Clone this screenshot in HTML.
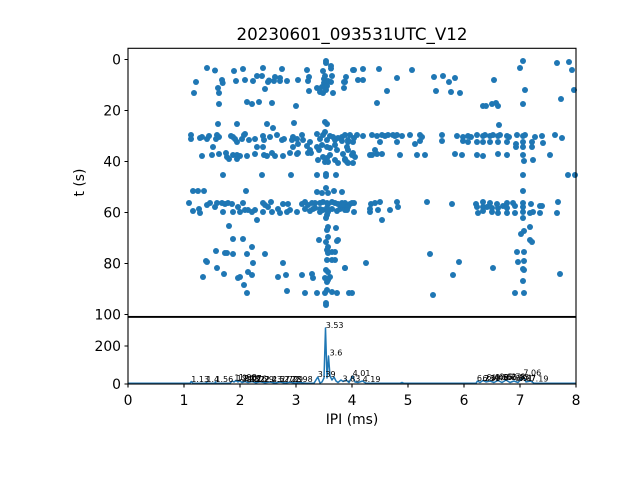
<!DOCTYPE html>
<html><head><meta charset="utf-8"><style>
html,body{margin:0;padding:0;background:#fff;}
svg{display:block;}
text{font-family:"DejaVu Sans","Liberation Sans",sans-serif;fill:#000;}
.tk{font-size:13.9px;}
.lb{font-size:8px;}
</style></head><body>
<svg width="640" height="480" viewBox="0 0 640 480" xmlns="http://www.w3.org/2000/svg">
<rect width="640" height="480" fill="#fff"/>
<text x="352" y="40" font-size="16.7" text-anchor="middle">20230601_093531UTC_V12</text>
<g fill="#1f77b4">
<circle cx="207" cy="68" r="3"/><circle cx="215" cy="70.5" r="3"/><circle cx="196" cy="82" r="3"/><circle cx="194" cy="93" r="3"/><circle cx="218" cy="88" r="3"/><circle cx="219" cy="93" r="3"/><circle cx="222.7" cy="83" r="3"/><circle cx="222" cy="80" r="3"/><circle cx="219" cy="104" r="3"/><circle cx="234" cy="71" r="3"/><circle cx="243" cy="69" r="3"/><circle cx="236" cy="81" r="3"/><circle cx="245" cy="80" r="3"/><circle cx="253" cy="81" r="3"/><circle cx="257" cy="76" r="3"/><circle cx="263" cy="68" r="3"/><circle cx="262" cy="76" r="3"/><circle cx="265" cy="89" r="3"/><circle cx="268" cy="82" r="3"/><circle cx="269" cy="80.5" r="3"/><circle cx="274" cy="81" r="3"/><circle cx="275" cy="77" r="3"/><circle cx="280" cy="78" r="3"/><circle cx="280" cy="81" r="3"/><circle cx="282" cy="69" r="3"/><circle cx="287" cy="81" r="3"/><circle cx="298" cy="80" r="3"/><circle cx="296" cy="106" r="3"/><circle cx="307" cy="70" r="3"/><circle cx="309" cy="77" r="3"/><circle cx="308" cy="81" r="3"/><circle cx="309" cy="91" r="3"/><circle cx="247" cy="102" r="3"/><circle cx="252" cy="104" r="3"/><circle cx="259" cy="102" r="3"/><circle cx="272" cy="103" r="3"/>
<circle cx="326" cy="61" r="3"/><circle cx="326" cy="63" r="3"/><circle cx="331" cy="68.5" r="3"/><circle cx="331" cy="66" r="3"/><circle cx="323" cy="71" r="3"/><circle cx="354" cy="70" r="3"/><circle cx="363" cy="69" r="3"/><circle cx="332" cy="76" r="3"/><circle cx="324" cy="79" r="3"/><circle cx="328" cy="81" r="3"/><circle cx="331" cy="82" r="3"/><circle cx="324" cy="83" r="3"/><circle cx="325" cy="76" r="3"/><circle cx="327" cy="86" r="3"/><circle cx="346" cy="77" r="3"/><circle cx="345" cy="82" r="3"/><circle cx="358" cy="80" r="3"/><circle cx="363" cy="80" r="3"/><circle cx="317" cy="88" r="3"/><circle cx="320" cy="92" r="3"/><circle cx="323" cy="93" r="3"/><circle cx="326" cy="90" r="3"/><circle cx="322" cy="87" r="3"/><circle cx="333" cy="93" r="3"/><circle cx="344" cy="88" r="3"/><circle cx="353" cy="70" r="3"/><circle cx="344" cy="82" r="3"/>
<circle cx="379" cy="69" r="3"/><circle cx="387" cy="91" r="3"/><circle cx="377" cy="103" r="3"/><circle cx="397" cy="78" r="3"/><circle cx="412" cy="70" r="3"/><circle cx="434" cy="77" r="3"/><circle cx="443" cy="76" r="3"/><circle cx="449" cy="82" r="3"/><circle cx="455" cy="78" r="3"/><circle cx="436" cy="91" r="3"/><circle cx="451" cy="92" r="3"/><circle cx="460" cy="93" r="3"/><circle cx="494" cy="80" r="3"/><circle cx="483" cy="106" r="3"/><circle cx="486" cy="106" r="3"/><circle cx="492" cy="104" r="3"/><circle cx="496" cy="103" r="3"/><circle cx="498" cy="106" r="3"/><circle cx="523" cy="61" r="3"/><circle cx="520" cy="68" r="3"/><circle cx="525" cy="90" r="3"/><circle cx="523" cy="104" r="3"/><circle cx="557" cy="63" r="3"/><circle cx="569" cy="62" r="3"/><circle cx="572" cy="70" r="3"/><circle cx="561" cy="99" r="3"/><circle cx="574" cy="90" r="3"/><circle cx="499" cy="125" r="3"/>
<circle cx="218" cy="124" r="3"/><circle cx="237" cy="124" r="3"/><circle cx="245" cy="134" r="3"/><circle cx="267" cy="124" r="3"/><circle cx="273" cy="128" r="3"/><circle cx="294" cy="123" r="3"/><circle cx="325" cy="122" r="3"/><circle cx="327" cy="124" r="3"/>
<circle cx="191" cy="135" r="3"/><circle cx="191" cy="139" r="3"/><circle cx="200" cy="138" r="3"/><circle cx="202" cy="137" r="3"/><circle cx="207" cy="139" r="3"/><circle cx="209" cy="136" r="3"/><circle cx="217" cy="135" r="3"/><circle cx="216" cy="139" r="3"/><circle cx="219" cy="137" r="3"/><circle cx="231" cy="136" r="3"/><circle cx="233" cy="137" r="3"/><circle cx="235" cy="139" r="3"/><circle cx="237" cy="142" r="3"/><circle cx="242" cy="139" r="3"/><circle cx="244" cy="135" r="3"/><circle cx="249" cy="140" r="3"/><circle cx="255" cy="139" r="3"/><circle cx="263" cy="136" r="3"/><circle cx="264" cy="140" r="3"/><circle cx="270" cy="137" r="3"/><circle cx="277" cy="135" r="3"/><circle cx="282" cy="140" r="3"/><circle cx="284" cy="139" r="3"/><circle cx="292" cy="140" r="3"/><circle cx="293" cy="137" r="3"/><circle cx="297" cy="139" r="3"/><circle cx="302" cy="135" r="3"/><circle cx="303" cy="140" r="3"/><circle cx="310" cy="142" r="3"/>
<circle cx="317" cy="134" r="3"/><circle cx="320" cy="139" r="3"/><circle cx="323" cy="135" r="3"/><circle cx="325" cy="132" r="3"/><circle cx="327" cy="140" r="3"/><circle cx="330" cy="136" r="3"/><circle cx="333" cy="137" r="3"/><circle cx="335" cy="140" r="3"/><circle cx="338" cy="138" r="3"/><circle cx="342" cy="137" r="3"/><circle cx="345" cy="135" r="3"/><circle cx="348" cy="140" r="3"/><circle cx="350" cy="135" r="3"/><circle cx="354" cy="138" r="3"/><circle cx="357" cy="135" r="3"/><circle cx="363" cy="136" r="3"/><circle cx="372" cy="135" r="3"/>
<circle cx="377" cy="136" r="3"/><circle cx="382" cy="135" r="3"/><circle cx="385" cy="136" r="3"/><circle cx="388" cy="135" r="3"/><circle cx="393" cy="135" r="3"/><circle cx="395" cy="136" r="3"/><circle cx="397" cy="135" r="3"/><circle cx="402" cy="136" r="3"/><circle cx="410" cy="135" r="3"/><circle cx="420" cy="135" r="3"/><circle cx="422" cy="137" r="3"/><circle cx="442" cy="135" r="3"/><circle cx="457" cy="136" r="3"/><circle cx="463" cy="137" r="3"/><circle cx="468" cy="136" r="3"/><circle cx="471" cy="137" r="3"/><circle cx="477" cy="135" r="3"/><circle cx="483" cy="136" r="3"/><circle cx="485" cy="135" r="3"/><circle cx="490" cy="136" r="3"/><circle cx="493" cy="135" r="3"/><circle cx="498" cy="136" r="3"/><circle cx="500" cy="135" r="3"/><circle cx="507" cy="136" r="3"/><circle cx="509" cy="137" r="3"/><circle cx="517" cy="135" r="3"/><circle cx="523" cy="136" r="3"/><circle cx="525" cy="135" r="3"/><circle cx="535" cy="137" r="3"/><circle cx="542" cy="136" r="3"/><circle cx="555" cy="135" r="3"/><circle cx="562" cy="138" r="3"/>
<circle cx="342" cy="141" r="3"/><circle cx="348" cy="142" r="3"/><circle cx="353" cy="142" r="3"/><circle cx="380" cy="142" r="3"/><circle cx="397" cy="142" r="3"/><circle cx="415" cy="144" r="3"/><circle cx="420" cy="141" r="3"/><circle cx="442" cy="141" r="3"/><circle cx="463" cy="141" r="3"/><circle cx="468" cy="142" r="3"/><circle cx="477" cy="142" r="3"/><circle cx="483" cy="142" r="3"/><circle cx="490" cy="142" r="3"/><circle cx="498" cy="142" r="3"/><circle cx="507" cy="142" r="3"/><circle cx="516" cy="144" r="3"/><circle cx="523" cy="142" r="3"/><circle cx="532" cy="142" r="3"/><circle cx="543" cy="143" r="3"/><circle cx="347" cy="147" r="3"/><circle cx="516" cy="147" r="3"/><circle cx="523" cy="147" r="3"/><circle cx="532" cy="147" r="3"/>
<circle cx="213" cy="147" r="3"/><circle cx="257" cy="147" r="3"/><circle cx="263" cy="147" r="3"/><circle cx="293" cy="147" r="3"/><circle cx="307" cy="146" r="3"/>
<circle cx="298" cy="144" r="3"/><circle cx="310" cy="150" r="3"/><circle cx="317" cy="147" r="3"/><circle cx="319" cy="150" r="3"/><circle cx="322" cy="145" r="3"/><circle cx="327" cy="147" r="3"/><circle cx="330" cy="148" r="3"/><circle cx="335" cy="145" r="3"/><circle cx="337" cy="150" r="3"/><circle cx="348" cy="150" r="3"/><circle cx="353" cy="153" r="3"/><circle cx="355" cy="157" r="3"/><circle cx="298" cy="153" r="3"/><circle cx="308" cy="153" r="3"/><circle cx="323" cy="157" r="3"/><circle cx="327" cy="158" r="3"/><circle cx="330" cy="155" r="3"/><circle cx="335" cy="160" r="3"/><circle cx="338" cy="163" r="3"/><circle cx="345" cy="159" r="3"/><circle cx="348" cy="163" r="3"/><circle cx="370" cy="155" r="3"/><circle cx="375" cy="150" r="3"/><circle cx="318" cy="160" r="3"/><circle cx="325" cy="162" r="3"/><circle cx="328" cy="162" r="3"/>
<circle cx="202" cy="156" r="3"/><circle cx="212" cy="155" r="3"/><circle cx="219" cy="154" r="3"/><circle cx="226" cy="153" r="3"/><circle cx="227" cy="157" r="3"/><circle cx="233" cy="155" r="3"/><circle cx="237" cy="155" r="3"/><circle cx="240" cy="156" r="3"/><circle cx="247" cy="156" r="3"/><circle cx="255" cy="154" r="3"/><circle cx="264" cy="155" r="3"/><circle cx="267" cy="156" r="3"/><circle cx="272" cy="153" r="3"/><circle cx="275" cy="156" r="3"/><circle cx="283" cy="156" r="3"/><circle cx="290" cy="153" r="3"/><circle cx="297" cy="154" r="3"/><circle cx="311" cy="153" r="3"/><circle cx="229" cy="159" r="3"/><circle cx="237" cy="159" r="3"/>
<circle cx="343" cy="154" r="3"/><circle cx="352" cy="155" r="3"/><circle cx="372" cy="155" r="3"/><circle cx="377" cy="154" r="3"/><circle cx="382" cy="154" r="3"/><circle cx="400" cy="155" r="3"/><circle cx="417" cy="155" r="3"/><circle cx="425" cy="155" r="3"/><circle cx="455" cy="154" r="3"/><circle cx="462" cy="155" r="3"/><circle cx="477" cy="155" r="3"/><circle cx="483" cy="156" r="3"/><circle cx="498" cy="154" r="3"/><circle cx="507" cy="155" r="3"/><circle cx="523" cy="155" r="3"/><circle cx="550" cy="155" r="3"/><circle cx="345" cy="160" r="3"/><circle cx="347" cy="162" r="3"/><circle cx="353" cy="163" r="3"/><circle cx="524" cy="161" r="3"/><circle cx="533" cy="160" r="3"/>
<circle cx="223" cy="175" r="3"/><circle cx="262" cy="175" r="3"/><circle cx="291" cy="175" r="3"/><circle cx="317" cy="175" r="3"/><circle cx="326" cy="174" r="3"/><circle cx="326" cy="176" r="3"/><circle cx="336" cy="175" r="3"/><circle cx="523" cy="175" r="3"/><circle cx="568" cy="175" r="3"/><circle cx="575" cy="175" r="3"/>
<circle cx="326" cy="188" r="3"/><circle cx="317" cy="192" r="3"/><circle cx="322" cy="193" r="3"/><circle cx="328" cy="193" r="3"/><circle cx="334" cy="191" r="3"/><circle cx="342" cy="192" r="3"/><circle cx="193" cy="191" r="3"/><circle cx="198" cy="191" r="3"/><circle cx="204" cy="191" r="3"/><circle cx="246" cy="191" r="3"/><circle cx="523" cy="191" r="3"/>
<circle cx="189" cy="203" r="3"/><circle cx="193" cy="211" r="3"/><circle cx="199" cy="209" r="3"/><circle cx="200" cy="213" r="3"/><circle cx="207" cy="205" r="3"/><circle cx="210" cy="203" r="3"/><circle cx="215" cy="207" r="3"/><circle cx="217" cy="203" r="3"/><circle cx="222" cy="203" r="3"/><circle cx="223" cy="212" r="3"/><circle cx="225" cy="204" r="3"/><circle cx="228" cy="203" r="3"/><circle cx="232" cy="204" r="3"/><circle cx="233" cy="212" r="3"/><circle cx="238" cy="207" r="3"/><circle cx="240" cy="212" r="3"/><circle cx="243" cy="203" r="3"/><circle cx="245" cy="210" r="3"/><circle cx="248" cy="210" r="3"/><circle cx="252" cy="212" r="3"/><circle cx="255" cy="210" r="3"/><circle cx="263" cy="203" r="3"/><circle cx="265" cy="205" r="3"/><circle cx="263" cy="212" r="3"/><circle cx="268" cy="207" r="3"/><circle cx="271" cy="202" r="3"/><circle cx="272" cy="212" r="3"/><circle cx="278" cy="209" r="3"/><circle cx="280" cy="213" r="3"/><circle cx="283" cy="204" r="3"/><circle cx="288" cy="204" r="3"/><circle cx="287" cy="212" r="3"/><circle cx="290" cy="210" r="3"/><circle cx="297" cy="212" r="3"/><circle cx="302" cy="204" r="3"/><circle cx="305" cy="202" r="3"/><circle cx="308" cy="205" r="3"/><circle cx="310" cy="211" r="3"/><circle cx="313" cy="209" r="3"/><circle cx="320" cy="212" r="3"/>
<circle cx="312" cy="203" r="3"/><circle cx="315" cy="203" r="3"/><circle cx="320" cy="203" r="3"/><circle cx="323" cy="202" r="3"/><circle cx="327" cy="203" r="3"/><circle cx="328" cy="204" r="3"/><circle cx="332" cy="202" r="3"/><circle cx="335" cy="203" r="3"/><circle cx="338" cy="204" r="3"/><circle cx="342" cy="203" r="3"/><circle cx="345" cy="203" r="3"/><circle cx="347" cy="206" r="3"/><circle cx="350" cy="204" r="3"/><circle cx="354" cy="203" r="3"/><circle cx="371" cy="204" r="3"/><circle cx="370" cy="209" r="3"/><circle cx="305" cy="209" r="3"/><circle cx="315" cy="208" r="3"/><circle cx="320" cy="209" r="3"/><circle cx="323" cy="210" r="3"/><circle cx="327" cy="208" r="3"/><circle cx="328" cy="212" r="3"/><circle cx="332" cy="209" r="3"/><circle cx="337" cy="211" r="3"/><circle cx="340" cy="209" r="3"/><circle cx="343" cy="207" r="3"/><circle cx="345" cy="210" r="3"/><circle cx="354" cy="212" r="3"/><circle cx="327" cy="215" r="3"/><circle cx="326" cy="218" r="3"/>
<circle cx="342" cy="205" r="3"/><circle cx="348" cy="207" r="3"/><circle cx="352" cy="203" r="3"/><circle cx="347" cy="210" r="3"/><circle cx="375" cy="203" r="3"/><circle cx="380" cy="202" r="3"/><circle cx="370" cy="212" r="3"/><circle cx="378" cy="210" r="3"/><circle cx="382" cy="220" r="3"/><circle cx="390" cy="210" r="3"/><circle cx="397" cy="202" r="3"/><circle cx="398" cy="207" r="3"/><circle cx="427" cy="202" r="3"/><circle cx="452" cy="204" r="3"/><circle cx="476" cy="204" r="3"/><circle cx="477" cy="207" r="3"/><circle cx="478" cy="213" r="3"/><circle cx="483" cy="202" r="3"/><circle cx="483" cy="207" r="3"/><circle cx="483" cy="211" r="3"/><circle cx="487" cy="207" r="3"/><circle cx="490" cy="203" r="3"/><circle cx="492" cy="208" r="3"/><circle cx="492" cy="212" r="3"/><circle cx="497" cy="204" r="3"/><circle cx="498" cy="208" r="3"/><circle cx="498" cy="213" r="3"/><circle cx="503" cy="206" r="3"/><circle cx="507" cy="203" r="3"/><circle cx="507" cy="208" r="3"/><circle cx="507" cy="213" r="3"/><circle cx="513" cy="203" r="3"/><circle cx="515" cy="206" r="3"/><circle cx="515" cy="213" r="3"/><circle cx="523" cy="203" r="3"/><circle cx="523" cy="207" r="3"/><circle cx="523" cy="212" r="3"/><circle cx="523" cy="218" r="3"/><circle cx="531" cy="204" r="3"/><circle cx="530" cy="213" r="3"/><circle cx="533" cy="212" r="3"/><circle cx="540" cy="206" r="3"/><circle cx="542" cy="206" r="3"/><circle cx="540" cy="213" r="3"/><circle cx="558" cy="202" r="3"/><circle cx="557" cy="213" r="3"/>
<circle cx="328" cy="227" r="3"/><circle cx="327" cy="230" r="3"/><circle cx="336" cy="228" r="3"/><circle cx="328" cy="237" r="3"/><circle cx="326" cy="242" r="3"/><circle cx="319" cy="240" r="3"/><circle cx="338" cy="240" r="3"/><circle cx="328" cy="247" r="3"/><circle cx="327" cy="250" r="3"/><circle cx="332" cy="252" r="3"/><circle cx="328" cy="253" r="3"/><circle cx="335" cy="252" r="3"/><circle cx="327" cy="260" r="3"/><circle cx="332" cy="260" r="3"/><circle cx="335" cy="260" r="3"/><circle cx="366" cy="263" r="3"/><circle cx="345" cy="268" r="3"/><circle cx="326" cy="270" r="3"/><circle cx="328" cy="272" r="3"/><circle cx="302" cy="275" r="3"/><circle cx="312" cy="274" r="3"/><circle cx="313" cy="278" r="3"/><circle cx="325" cy="278" r="3"/><circle cx="330" cy="277" r="3"/><circle cx="327" cy="282" r="3"/><circle cx="328" cy="280" r="3"/><circle cx="305" cy="293" r="3"/><circle cx="317" cy="293" r="3"/><circle cx="327" cy="290" r="3"/><circle cx="325" cy="293" r="3"/><circle cx="332" cy="292" r="3"/><circle cx="337" cy="293" r="3"/><circle cx="352" cy="293" r="3"/><circle cx="326" cy="305" r="3"/><circle cx="326" cy="303" r="3"/>
<circle cx="229" cy="226" r="3"/><circle cx="257" cy="220" r="3"/><circle cx="233" cy="239" r="3"/><circle cx="243" cy="239" r="3"/><circle cx="252" cy="247" r="3"/><circle cx="216" cy="251" r="3"/><circle cx="225" cy="253" r="3"/><circle cx="227" cy="253" r="3"/><circle cx="233" cy="254" r="3"/><circle cx="247" cy="254" r="3"/><circle cx="253" cy="263" r="3"/><circle cx="265" cy="254" r="3"/><circle cx="206" cy="261" r="3"/><circle cx="207" cy="262" r="3"/><circle cx="217" cy="268" r="3"/><circle cx="203" cy="277" r="3"/><circle cx="224" cy="274" r="3"/><circle cx="238" cy="278" r="3"/><circle cx="240" cy="277" r="3"/><circle cx="248" cy="272" r="3"/><circle cx="252" cy="275" r="3"/><circle cx="244" cy="285" r="3"/><circle cx="247" cy="293" r="3"/><circle cx="283" cy="263" r="3"/><circle cx="278" cy="277" r="3"/><circle cx="286" cy="275" r="3"/><circle cx="287" cy="291" r="3"/><circle cx="337" cy="241" r="3"/><circle cx="349" cy="293" r="3"/>
<circle cx="530" cy="227" r="3"/><circle cx="524" cy="231" r="3"/><circle cx="521" cy="234" r="3"/><circle cx="530" cy="240" r="3"/><circle cx="532" cy="242" r="3"/><circle cx="517" cy="252" r="3"/><circle cx="524" cy="252" r="3"/><circle cx="518" cy="262" r="3"/><circle cx="524" cy="261" r="3"/><circle cx="523" cy="269" r="3"/><circle cx="524" cy="270" r="3"/><circle cx="523" cy="281" r="3"/><circle cx="515" cy="293" r="3"/><circle cx="524" cy="293" r="3"/><circle cx="430" cy="254" r="3"/><circle cx="459" cy="262" r="3"/><circle cx="453" cy="275" r="3"/><circle cx="493" cy="268" r="3"/><circle cx="560" cy="274" r="3"/><circle cx="433" cy="295" r="3"/><circle cx="345" cy="268" r="3"/>
</g>
<path d="M128,383.3 L190,383.3 L191.3,381.5 L193,383.3 L206,383.3 L206.4,382 L207,383.3 L215,383.3 L215.4,381.8 L216,383.3 L230,383.3 L232,381 L234,382 L236,380.5 L238,382 L240,381 L242,382.5 L245,381.5 L248,382.5 L252,381.5 L256,382.8 L260,381.8 L265,382.8 L270,382 L275,383 L280,382 L285,383 L290,382.2 L295,383 L300,382.5 L306,383.2 L314,383.2 L317.8,377 L320,383 L322,382 L324,378 L325.5,328 L327,378 L328.5,356 L330,376 L332,380 L334,377 L336,381 L338,382.5 L341,380 L343,381.5 L346,380 L349,382.5 L352.6,376 L355,382 L358,382.5 L362.6,381 L366,383.3 L400,383.3 L402,382.5 L404,383.3 L476,383.3 L477.5,381 L480,382.5 L483,380.5 L486,382 L490,381 L494,382.5 L498,380.5 L502,382.5 L506,380 L510,382.5 L514,381 L518,382.5 L521,379.5 L523.4,377 L526,382 L530.6,381 L534,383.3 L576,383.3" fill="none" stroke="#1f77b4" stroke-width="1.5" stroke-linejoin="round"/>
<g class="lb">
<text x="191.3" y="382">1.13</text><text x="206.4" y="382">1.4</text><text x="215.4" y="382">1.56</text>
<text x="234.4" y="380.5">1.9</text><text x="236.6" y="381">1.94</text><text x="238.9" y="380">1.98</text><text x="241.7" y="381.5">2.03</text><text x="243.9" y="381">2.07</text><text x="246.7" y="382">2.12</text><text x="249" y="381.5">2.16</text><text x="252.3" y="382">2.22</text><text x="256.2" y="382">2.29</text><text x="264" y="382">2.43</text><text x="272" y="382">2.57</text><text x="280.3" y="382">2.72</text><text x="283.7" y="382">2.78</text><text x="290.4" y="382">2.9</text><text x="294.9" y="382">2.98</text>
<text x="317.8" y="377">3.39</text><text x="325.7" y="328">3.53</text><text x="329.6" y="355.5">3.6</text><text x="342.5" y="381.5">3.83</text><text x="352.6" y="376">4.01</text><text x="362.6" y="382">4.19</text>
<text x="476.9" y="381">6.23</text><text x="482.5" y="381">6.33</text><text x="486.4" y="380">6.4</text><text x="490.9" y="380.5">6.48</text><text x="494.8" y="380">6.55</text><text x="498.7" y="379.5">6.62</text><text x="503.2" y="380">6.7</text><text x="507.7" y="379.5">6.78</text><text x="511.6" y="380">6.85</text><text x="515" y="381">6.91</text><text x="518.3" y="381">6.97</text><text x="523.4" y="375.5">7.06</text><text x="530.6" y="381.5">7.19</text>
</g>
<g fill="none" stroke="#000" stroke-width="1.1">
<rect x="128" y="48.3" width="448" height="268.2"/>
<rect x="128" y="317.3" width="448" height="66.7"/>
<path d="M124.5,59.5H128M124.5,110.5H128M124.5,161.5H128M124.5,212.5H128M124.5,263.5H128M124.5,314.5H128M124.5,384H128M124.5,346H128"/>
<path d="M128,384V387.5M184,384V387.5M240,384V387.5M296,384V387.5M352,384V387.5M408,384V387.5M464,384V387.5M520,384V387.5M576,384V387.5"/>
</g>
<g class="tk" text-anchor="end">
<text x="121" y="64.5">0</text><text x="121" y="115.5">20</text><text x="121" y="166.5">40</text><text x="121" y="217.5">60</text><text x="121" y="268.5">80</text><text x="121" y="319.5">100</text>
<text x="121" y="351">200</text><text x="121" y="389">0</text>
</g>
<g class="tk" text-anchor="middle">
<text x="128" y="405">0</text><text x="184" y="405">1</text><text x="240" y="405">2</text><text x="296" y="405">3</text><text x="352" y="405">4</text><text x="408" y="405">5</text><text x="464" y="405">6</text><text x="520" y="405">7</text><text x="576" y="405">8</text>
<text x="352" y="424">IPI (ms)</text>
<text x="0" y="0" transform="translate(84,182.5) rotate(-90)">t (s)</text>
</g>
</svg>
</body></html>
